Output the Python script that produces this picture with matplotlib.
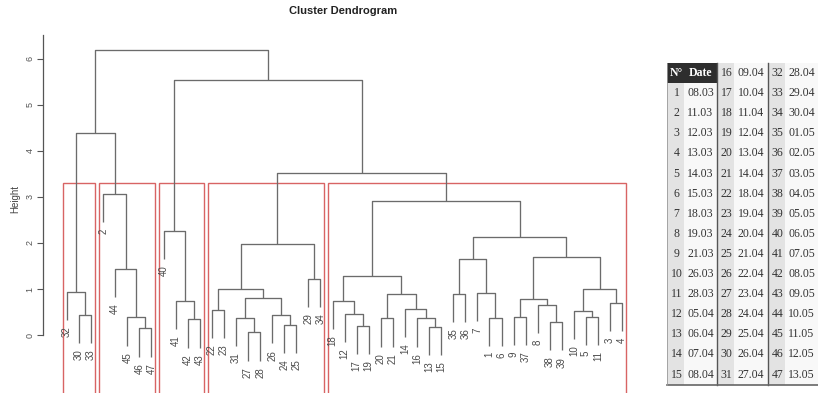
import matplotlib
matplotlib.use("Agg")
import matplotlib.pyplot as plt
from matplotlib.patches import Rectangle

# ---- hierarchical clustering result (R hclust convention) ----
# negative entries are observations, positive entries refer to earlier merges
merge_left = [-27, -46, -13, -17, -24, -38, -42, -20, -16, -1, -31, -45, -9, -5, -30,
              -26, -12, -10, -22, -14, -8, -3, -41, -18, 13, 11, -35, 8, -7, -32,
              19, 18, -29, 24, -44, 27, 25, 31, 36, -40, 34, -2, 38, 30, 40, 44]
merge_right = [-28, -47, -15, -19, -25, -39, -43, -21, 3, -6, 1, 2, -37, -11, -33,
               5, 4, 14, -23, 9, 6, -4, 7, 17, 21, 16, -36, 20, 10, 15,
               26, 22, -34, 28, 12, 29, 32, 33, 37, 23, 39, 35, 41, 42, 43, 45]
merge_height = [0.06, 0.145, 0.17, 0.20, 0.22, 0.28, 0.34, 0.36, 0.36, 0.38, 0.38, 0.385,
                0.40, 0.40, 0.43, 0.43, 0.46, 0.52, 0.54, 0.57, 0.65, 0.70, 0.74, 0.75,
                0.78, 0.80, 0.89, 0.90, 0.92, 0.94, 0.99, 0.99, 1.22, 1.29, 1.44, 1.65,
                1.70, 1.97, 2.14, 2.27, 2.92, 3.07, 3.53, 4.39, 5.54, 6.20]
leaf_order = [32, 30, 33, 2, 44, 45, 46, 47, 40, 41, 42, 43, 22, 23, 31, 27, 28, 26,
              24, 25, 29, 34, 18, 12, 17, 19, 20, 21, 14, 16, 13, 15, 35, 36, 7, 1,
              6, 9, 37, 8, 38, 39, 10, 5, 11, 3, 4]
n_groups = 5

# ---- observation dates (table) ----
obs_numbers = list(range(1, 48))
obs_dates = ["08.03", "11.03", "12.03", "13.03", "14.03", "15.03", "18.03", "19.03",
             "21.03", "26.03", "28.03", "05.04", "06.04", "07.04", "08.04", "09.04",
             "10.04", "11.04", "12.04", "13.04", "14.04", "18.04", "19.04", "20.04",
             "21.04", "22.04", "23.04", "24.04", "25.04", "26.04", "27.04", "28.04",
             "29.04", "30.04", "01.05", "02.05", "03.05", "04.05", "05.05", "06.05",
             "07.05", "08.05", "09.05", "10.05", "11.05", "12.05", "13.05"]
header_labels = ["N°", "Date"]

W, H = 818, 393
fig = plt.figure(figsize=(W / 100, H / 100), dpi=100)
fig.patch.set_facecolor("white")

sans = ["Liberation Sans", "DejaVu Sans"]
narrow = ["Liberation Sans Narrow", "Liberation Sans", "DejaVu Sans"]
serif = ["Liberation Serif", "DejaVu Serif"]

# ---- dendrogram axes ----
px_left, px_right, px_top = 43, 644, 35
ax = fig.add_axes([px_left / W, 0, (px_right - px_left) / W, (H - px_top) / H])
leaf_step = 12.07
ax.set_xlim(1 + (px_left - 67) / leaf_step, 1 + (px_right - 67) / leaf_step)
ax.set_ylim(-1.26, 6.52)

pos = {obs: i + 1 for i, obs in enumerate(leaf_order)}
hang = 0.1 * (max(merge_height) - min(merge_height))
node_x, node_y = {}, {}
line_kw = dict(color="#6b6b6b", lw=0.95, solid_capstyle="butt")


def child_xy(c, h):
    if c < 0:
        return pos[-c], h - hang
    return node_x[c], node_y[c]


for k, (a, b, h) in enumerate(zip(merge_left, merge_right, merge_height), start=1):
    xa, ya = child_xy(a, h)
    xb, yb = child_xy(b, h)
    ax.plot([xa, xa, xb, xb], [ya, h, h, yb], **line_kw)
    node_x[k] = (xa + xb) / 2
    node_y[k] = h
    for c, xc, yc in ((a, xa, ya), (b, xb, yb)):
        if c < 0:
            ax.annotate(str(-c), xy=(xc, yc), xytext=(0, -4.5), textcoords="offset points",
                        rotation=90, ha="center", va="top", fontsize=7,
                        color="#4a4a4a", family=sans)

# ---- cluster rectangles ----
top_heights = sorted(merge_height, reverse=True)
cut = (top_heights[n_groups - 2] + top_heights[n_groups - 1]) / 2


def leaves_of(c):
    if c < 0:
        return [pos[-c]]
    return leaves_of(merge_left[c - 1]) + leaves_of(merge_right[c - 1])


def clusters(c):
    if c > 0 and merge_height[c - 1] > cut:
        return clusters(merge_left[c - 1]) + clusters(merge_right[c - 1])
    return [leaves_of(c)]


for members in clusters(len(merge_height)):
    x0, x1 = min(members) - 0.34, max(members) + 0.33
    ax.add_patch(Rectangle((x0, -3), x1 - x0, cut + 3, fill=False,
                           ec="#d86464", lw=1.0))

for s in ("top", "right", "bottom"):
    ax.spines[s].set_visible(False)
ax.spines["left"].set_bounds(0, 6.52)
ax.spines["left"].set_color("#555555")
ax.spines["left"].set_linewidth(0.9)
ax.set_xticks([])
ax.set_yticks(range(0, 7))
ax.tick_params(axis="y", length=4, width=0.8, color="#555555", labelsize=6.5,
               labelcolor="#555555", pad=2)
for lab in ax.get_yticklabels():
    lab.set_rotation(90)
    lab.set_va("center")
    lab.set_family(sans)
ax.patch.set_alpha(0)

fig.text(15 / W, 1 - 199 / H, "Height", rotation=90, ha="center", va="center",
         fontsize=7, color="#444444", family=sans)
fig.text(343.5 / W, 1 - 11 / H, "Cluster Dendrogram", ha="center", va="center",
         fontsize=8, fontweight="bold", color="#222222", family=narrow)

# ---- date table ----
tab = fig.add_axes([0, 0, 1, 1])
tab.set_xlim(0, W)
tab.set_ylim(H, 0)
tab.axis("off")
tab.patch.set_alpha(0)

group_edges = [667, 717, 768, 818]
num_w = 17
row_top, row_h, n_rows = 63, 20.1, 16
table_bottom = row_top + n_rows * row_h

cells = [[None] + obs_numbers[0:15], obs_numbers[15:31], obs_numbers[31:47]]
for g, col in enumerate(cells):
    gx0, gx1 = group_edges[g], group_edges[g + 1]
    xm = gx0 + num_w
    tab.add_patch(Rectangle((gx0, row_top), num_w, n_rows * row_h, fc="#e3e3e3", ec="none"))
    tab.add_patch(Rectangle((xm, row_top), gx1 - xm, n_rows * row_h, fc="#f8f8f8", ec="none"))
    for r, num in enumerate(col):
        yc = row_top + (r + 0.5) * row_h
        if num is None:
            tab.add_patch(Rectangle((gx0, row_top), gx1 - gx0, row_h, fc="#2e2e2e", ec="none"))
            tab.text(gx0 + num_w / 2 + 1, yc, header_labels[0], ha="center", va="center",
                     fontsize=8.5, fontweight="bold", color="white", family=serif)
            tab.text((xm + gx1) / 2, yc, header_labels[1], ha="center", va="center",
                     fontsize=8.5, fontweight="bold", color="white", family=serif)
            continue
        tab.text(gx0 + num_w / 2 + 1, yc, str(num), ha="center", va="center",
                 fontsize=8.5, color="#333333", family=serif)
        tab.text((xm + gx1) / 2, yc, obs_dates[num - 1], ha="center", va="center",
                 fontsize=8.5, color="#333333", family=serif)
    if g > 0:
        tab.plot([gx0, gx0], [row_top, table_bottom], color="#555555", lw=1.0)

tab.plot([group_edges[0], group_edges[-1]], [table_bottom] * 2, color="#666666", lw=1.2)
tab.plot([group_edges[0], group_edges[0]], [row_top, table_bottom], color="#999999", lw=0.6)

fig.savefig("out.png", dpi=100, facecolor="white")
